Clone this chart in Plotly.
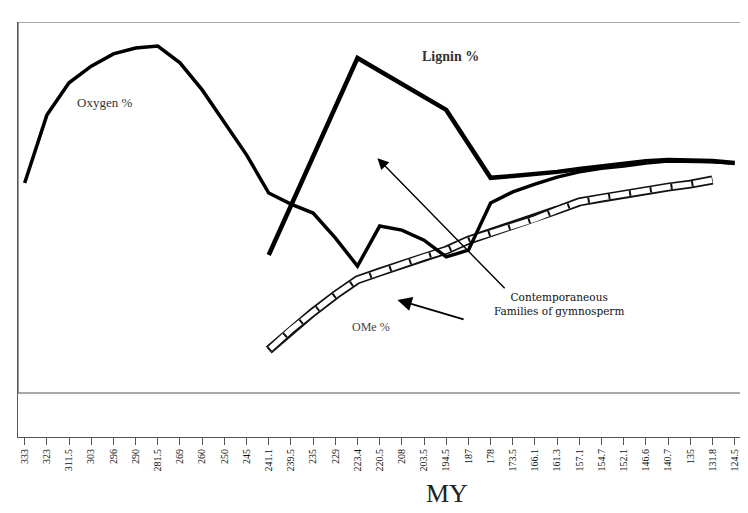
import plotly.graph_objects as go

# Category axis: age in million years (MY)
my_labels = ["333", "323", "311.5", "303", "296", "290", "281.5", "269", "260", "250",
             "245", "241.1", "239.5", "235", "229", "223.4", "220.5", "208", "203.5",
             "194.5", "187", "178", "173.5", "166.1", "161.3", "157.1", "154.7", "152.1",
             "146.6", "140.7", "135", "131.8", "124.5"]

# Series values (relative scale 0-100)
oxygen = [56.6, 74.9, 83.6, 88.1, 91.4, 93.0, 93.5, 89.0, 81.7, 72.8,
          64.2, 53.9, 50.9, 48.5, 41.8, 34.2, 45.0, 43.9, 41.2, 36.7,
          38.5, 51.2, 54.2, 56.3, 58.2, 59.6, 60.6, 61.2, 62.0, 62.5,
          62.5, 62.3, 62.0]

lignin = [None, None, None, None, None, None, None, None, None, None,
          None, 37.2, None, None, None, 90.3, None, None, None, 76.3,
          None, 58.0, 58.5, 59.0, 59.6, 60.4, 61.2, 61.7, 62.5, 62.8,
          62.8, 62.5, 62.0]

ome = [None, None, None, None, None, None, None, None, None, None,
       None, 11.6, 17.0, 21.8, 26.4, 30.5, 32.6, 34.5, 36.7, 38.5,
       41.2, 43.1, 45.0, 46.9, 49.3, 51.5, 52.6, 53.6, 54.7, 55.5,
       56.3, 57.4, None]

fig = go.Figure()

# OMe % : hollow "rail" style line
fig.add_trace(go.Scatter(x=my_labels, y=ome, mode="lines",
                         line=dict(color="#111111", width=9), hoverinfo="skip"))
fig.add_trace(go.Scatter(x=my_labels, y=ome, mode="lines",
                         line=dict(color="white", width=5.5), hoverinfo="skip"))
fig.add_trace(go.Scatter(x=my_labels, y=ome, mode="lines",
                         line=dict(color="#111111", width=5.5, dash="2px,19px"),
                         hoverinfo="skip"))

# Oxygen %
fig.add_trace(go.Scatter(x=my_labels, y=oxygen, mode="lines",
                         line=dict(color="black", width=3.5), name="Oxygen %"))
# Lignin %
fig.add_trace(go.Scatter(x=my_labels, y=lignin, mode="lines", connectgaps=True,
                         line=dict(color="black", width=4.5), name="Lignin %"))

serif = "Liberation Serif, Times New Roman, serif"

annotations = [
    dict(x=3.6, y=78.4, text="Oxygen %", showarrow=False,
         font=dict(family=serif, size=13, color="#333333")),
    dict(x=19.2, y=90.6, text="<b>Lignin %</b>", showarrow=False,
         font=dict(family=serif, size=14, color="#333333")),
    dict(x=15.6, y=17.8, text="OMe %", showarrow=False,
         font=dict(family=serif, size=12, color="#444444")),
    dict(x=24.1, y=24.0, text="Contemporaneous<br>Families of gymnosperm",
         showarrow=False, align="center",
         font=dict(family="DejaVu Serif, serif", size=10.5, color="#111111")),
    # arrows
    dict(x=15.9, y=63.3, ax=21.7, ay=27.8, xref="x", yref="y", axref="x", ayref="y",
         text="", showarrow=True, arrowhead=2, arrowsize=1.6, arrowwidth=1.4,
         arrowcolor="black"),
    dict(x=16.8, y=25.1, ax=19.85, ay=19.7, xref="x", yref="y", axref="x", ayref="y",
         text="", showarrow=True, arrowhead=2, arrowsize=1.6, arrowwidth=1.8,
         arrowcolor="black"),
    # axis title
    dict(x=0.588, y=-0.137, xref="paper", yref="paper", text="MY",
         showarrow=False, xanchor="center", yanchor="middle",
         font=dict(family=serif, size=26, color="#222222")),
]

fig.update_layout(
    width=740, height=505,
    margin=dict(l=10, r=0, t=14, b=76, autoexpand=False),
    paper_bgcolor="white", plot_bgcolor="white",
    showlegend=False,
    annotations=annotations,
    shapes=[dict(type="rect", xref="paper", yref="y", x0=0, x1=1.05, y0=0, y1=100,
                 line=dict(color="#555555", width=1.2), layer="below")],
)

fig.update_xaxes(type="category", range=[-0.3, 32.6], showgrid=False, zeroline=False,
                 automargin=False,
                 showline=True, linecolor="#555555", linewidth=1.2,
                 ticks="outside", ticklen=7, tickcolor="#555555", tickwidth=1,
                 tickangle=-90,
                 tickfont=dict(family=serif, size=10, color="#111111"))
fig.update_yaxes(range=[-11.86, 100], showgrid=False, zeroline=False,
                 automargin=False,
                 showticklabels=False, showline=True, linecolor="#555555",
                 linewidth=1.2, ticks="")

fig.write_html("out.html")
